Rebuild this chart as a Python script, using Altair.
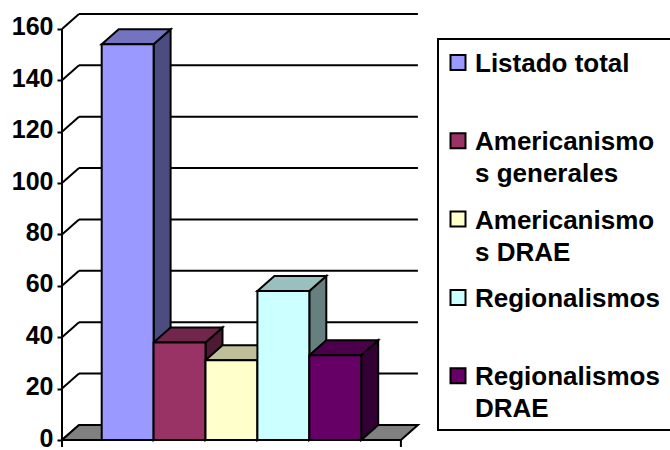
import altair as alt
import pandas as pd

# ---------------- data ----------------
categories = ["Listado total", "Americanismos generales", "Americanismos DRAE",
              "Regionalismos", "Regionalismos DRAE"]
values = [154, 38, 31, 58, 33]
colors = ["#9999FF", "#993366", "#FFFFCC", "#CCFFFF", "#660066"]
ticks = [0, 20, 40, 60, 80, 100, 120, 140, 160]
legend_line1 = ["Listado total", "Americanismo", "Americanismo", "Regionalismos", "Regionalismos"]
legend_line2 = ["", "s generales", "s DRAE", "", "DRAE"]

# ---------------- layout / style ----------------
W, H = 606, 425          # plot area
PAD = {"left": 62, "top": 15, "right": 2, "bottom": 10}
PX_X = 51.9              # px per category slot
PX_Y = 2.569             # px per value unit
GAP = 0.765              # gap before first / after last bar (in slots)
DX = 17 / PX_X           # 3D depth, x
DY = 15 / PX_Y           # 3D depth, y
FLOOR_W = 2 * GAP + len(values)
FONT = "Liberation Sans"
SW = 2


def shade(hx, f):
    hx = hx.lstrip("#")
    r, g, b = (int(hx[i:i + 2], 16) for i in (0, 2, 4))
    return "#%02X%02X%02X" % (round(r * f), round(g * f), round(b * f))


x_scale = alt.Scale(domain=[0, W / PX_X], nice=False, zero=False)
y_scale = alt.Scale(domain=[0, H / PX_Y], nice=False, zero=False)
y_axis = alt.Axis(values=ticks, domain=False, grid=False, tickSize=5,
                  tickColor="black", tickWidth=SW, labelFont=FONT,
                  labelFontSize=25, labelFontWeight="bold",
                  labelColor="black", labelPadding=4, labelOffset=-2,
                  title=None)


def X(f):
    return alt.X(f, scale=x_scale, axis=None, title=None)


def Y(f):
    return alt.Y(f, scale=y_scale, axis=y_axis, title=None)


# back wall gridlines
grid_df = pd.DataFrame({"x": DX, "x2": FLOOR_W + DX, "y": [t + DY for t in ticks[1:]]})
grid = alt.Chart(grid_df).mark_rule(color="black", strokeWidth=SW).encode(
    x=X("x:Q"), x2="x2:Q", y=Y("y:Q"))

# side wall diagonals
wall_df = pd.DataFrame({"x": 0.0, "x2": DX, "y": ticks, "y2": [t + DY for t in ticks]})
wall = alt.Chart(wall_df).mark_rule(color="black", strokeWidth=SW).encode(
    x=X("x:Q"), x2="x2:Q", y=Y("y:Q"), y2="y2:Q")

# floor
floor_df = pd.DataFrame({"y": [0.0, DY], "xa": [0.0, DX], "xb": [FLOOR_W, FLOOR_W + DX]})
floor = alt.Chart(floor_df).mark_area(orient="horizontal", fill="#808080",
                                      stroke="black", strokeWidth=SW).encode(
    y=Y("y:Q"), x=X("xa:Q"), x2="xb:Q")

# front value axis line
axis_df = pd.DataFrame({"x": [0.0], "y": [ticks[0]], "y2": [ticks[-1]]})
axis_line = alt.Chart(axis_df).mark_rule(color="black", strokeWidth=SW).encode(
    x=X("x:Q"), y=Y("y:Q"), y2="y2:Q")

# category axis end ticks
xt_df = pd.DataFrame({"x": [0.0, FLOOR_W], "y": 0.0, "y2": -7 / PX_Y})
xticks = alt.Chart(xt_df).mark_rule(color="black", strokeWidth=SW).encode(
    x=X("x:Q"), y=Y("y:Q"), y2="y2:Q")

# bars
rows_front, rows_top, rows_side = [], [], []
for i, (c, v, col) in enumerate(zip(categories, values, colors)):
    x0 = GAP + i
    x1 = x0 + 1
    rows_front.append({"cat": c, "x0": x0, "x1": x1, "value": v, "base": 0.0, "fill": col})
    rows_top.append({"cat": c, "y": v, "xa": x0, "xb": x1, "fill": shade(col, 0.75)})
    rows_top.append({"cat": c, "y": v + DY, "xa": x0 + DX, "xb": x1 + DX, "fill": shade(col, 0.75)})
    rows_side.append({"cat": c, "x": x1, "ya": v, "yb": 0.0, "fill": shade(col, 0.5)})
    rows_side.append({"cat": c, "x": x1 + DX, "ya": v + DY, "yb": DY, "fill": shade(col, 0.5)})

sides = alt.Chart(pd.DataFrame(rows_side)).mark_area(
    orient="vertical", stroke="black", strokeWidth=SW).encode(
    x=X("x:Q"), y=Y("ya:Q"), y2="yb:Q",
    fill=alt.Fill("fill:N", scale=None), detail="cat:N")

tops = alt.Chart(pd.DataFrame(rows_top)).mark_area(
    orient="horizontal", stroke="black", strokeWidth=SW).encode(
    y=Y("y:Q"), x=X("xa:Q"), x2="xb:Q",
    fill=alt.Fill("fill:N", scale=None), detail="cat:N")

fronts = alt.Chart(pd.DataFrame(rows_front)).mark_rect(
    stroke="black", strokeWidth=SW).encode(
    x=X("x0:Q"), x2="x1:Q",
    y=Y("value:Q"), y2="base:Q",
    fill=alt.Fill("fill:N", scale=None))

main = alt.layer(grid, wall, floor, axis_line, xticks, sides, tops, fronts)

# ---------------- legend ----------------
L_LEFT, L_RIGHT, L_TOP, L_BOTTOM = 438, 672, 39, 430
FIRST_BASE, PITCH, LINE_H = 72, 78.3, 32
n = len(legend_line1)
ly = alt.Scale(domain=[0, n - 1],
               range=[FIRST_BASE - PAD["top"], FIRST_BASE - PAD["top"] + (n - 1) * PITCH])

box = alt.Chart(pd.DataFrame({"a": [0]})).mark_rect(
    fill="white", stroke="black", strokeWidth=SW).encode(
    x=alt.value(L_LEFT - PAD["left"]), x2=alt.value(L_RIGHT - PAD["left"]),
    y=alt.value(L_TOP - PAD["top"]), y2=alt.value(L_BOTTOM - PAD["top"]))

leg_df = pd.DataFrame({"row": list(range(n)), "l1": legend_line1, "l2": legend_line2,
                       "fill": colors})
leg_df["sy"] = leg_df["row"] - 9.5 / PITCH

swatches = alt.Chart(leg_df).mark_square(
    size=225, filled=True, stroke="black", strokeWidth=SW, opacity=1).encode(
    x=alt.value(458 - PAD["left"]),
    y=alt.Y("sy:Q", scale=ly, axis=None),
    fill=alt.Fill("fill:N", scale=None))

text1 = alt.Chart(leg_df).mark_text(
    font=FONT, fontSize=26, fontWeight="bold", align="left",
    baseline="alphabetic", color="black").encode(
    x=alt.value(475 - PAD["left"]),
    y=alt.Y("row:Q", scale=ly, axis=None),
    text="l1:N")

text2 = alt.Chart(leg_df).mark_text(
    font=FONT, fontSize=26, fontWeight="bold", align="left",
    baseline="alphabetic", color="black", dy=LINE_H).encode(
    x=alt.value(475 - PAD["left"]),
    y=alt.Y("row:Q", scale=ly, axis=None),
    text="l2:N")

legend = alt.layer(box, swatches, text1, text2)

chart = alt.layer(main, legend).resolve_scale(
    x="independent", y="independent").properties(
    width=W, height=H, padding=PAD, autosize="none", background="white"
).configure_view(stroke=None)

chart.save("out.html", embed_options={"renderer": "svg", "actions": False})
